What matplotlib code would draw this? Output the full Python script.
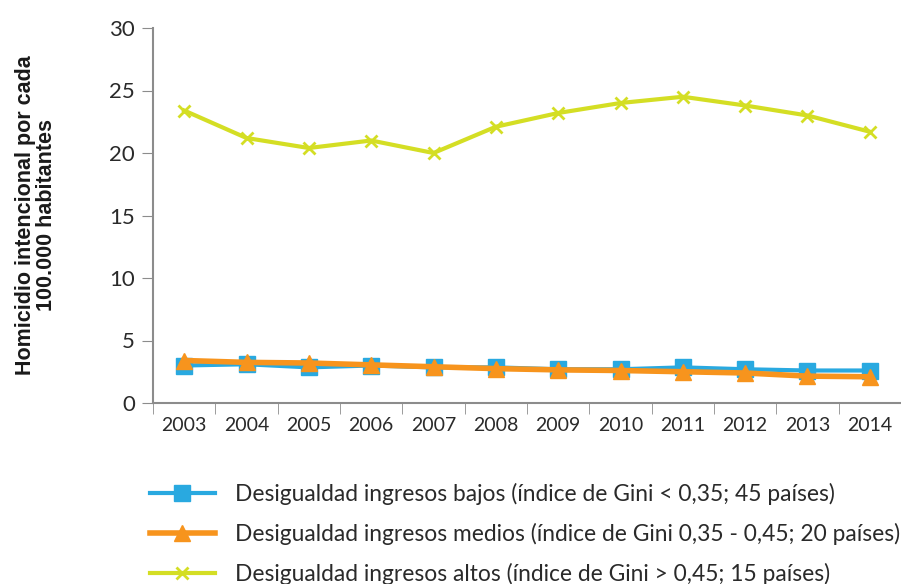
import matplotlib.pyplot as plt
import numpy as np

# --- DATOS ---
anios = ['2003', '2004', '2005', '2006', '2007', '2008',
         '2009', '2010', '2011', '2012', '2013', '2014']
bajos = [3.0, 3.1, 2.85, 3.0, 2.85, 2.85, 2.7, 2.7, 2.85, 2.7, 2.6, 2.6]
medios = [3.4, 3.25, 3.2, 3.05, 2.9, 2.75, 2.65, 2.6, 2.5, 2.4, 2.15, 2.1]
altos = [23.4, 21.2, 20.4, 21.0, 20.0, 22.1, 23.2, 24.0, 24.5, 23.8, 23.0, 21.7]

etiquetas = [
    'Desigualdad ingresos bajos (índice de Gini < 0,35; 45 países)',
    'Desigualdad ingresos medios (índice de Gini 0,35 - 0,45; 20 países)',
    'Desigualdad ingresos altos (índice de Gini > 0,45; 15 países)',
]

plt.rcParams['font.family'] = ['Lato', 'DejaVu Sans']

fig = plt.figure(figsize=(9.01, 5.84), dpi=100)
ax = fig.add_axes([153 / 901, 1 - 403 / 584, 748 / 901, 375 / 584])

x = np.arange(len(anios))
gris = '#8c8c8c'
texto = '#2a2a2a'

ax.plot(x, bajos, color='#29a9e0', lw=3, marker='s', markersize=12, label=etiquetas[0])
ax.plot(x, medios, color='#f7941d', lw=4, marker='^', markersize=12, label=etiquetas[1])
ax.plot(x, altos, color='#d4de24', lw=3, marker='x', markersize=8, mew=2, label=etiquetas[2])

ax.set_xlim(-0.5, len(anios) - 0.5)
ax.set_ylim(0, 30)
ax.set_yticks(range(0, 31, 5))
ax.set_xticks(x)
ax.set_xticklabels(anios)
ax.set_xticks(np.arange(-0.5, len(anios), 1), minor=True)
ax.tick_params(axis='x', which='major', length=0, labelsize=14, pad=10, colors=texto)
ax.tick_params(axis='x', which='minor', length=8, color=gris, direction='out')
ax.tick_params(axis='y', length=8, color=gris, labelsize=16, labelcolor=texto, pad=5)

for lado in ['top', 'right']:
    ax.spines[lado].set_visible(False)
for lado in ['left', 'bottom']:
    ax.spines[lado].set_color(gris)
    ax.spines[lado].set_linewidth(1.5)

fig.text(36 / 901, 1 - 215 / 584, 'Homicidio intencional por cada\n100.000 habitantes',
         rotation=90, ha='center', va='center', fontsize=15.5, fontweight='bold',
         family=['Liberation Sans'], color='#1a1a1a', linespacing=0.95)

ley = ax.legend(loc='upper left', bbox_to_anchor=(150 / 901, 1 - 483 / 584),
                bbox_transform=fig.transFigure, frameon=False, fontsize=16.4,
                handlelength=2.85, handletextpad=0.9, labelspacing=0.78, borderpad=0,
                borderaxespad=0)
for t in ley.get_texts():
    t.set_color(texto)

fig.savefig('out.png', dpi=100)
